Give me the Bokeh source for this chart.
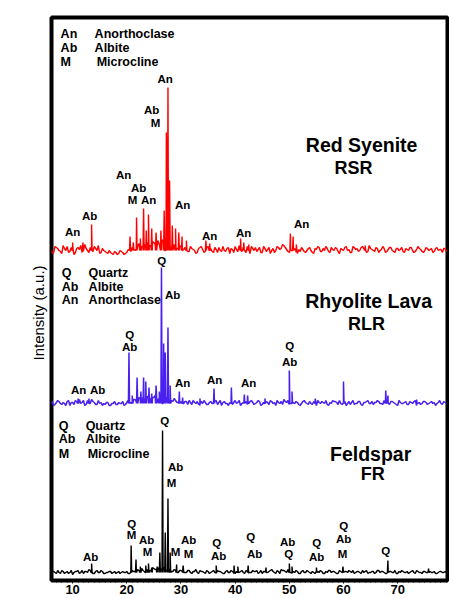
import numpy as np
from bokeh.plotting import figure
from bokeh.models import FixedTicker, Label, Range1d, Title
from bokeh.core.properties import value
from bokeh.embed import file_html
from bokeh.resources import INLINE

FONT = "Liberation Sans"

# ---- data (2theta in degrees, intensity in a.u.) ----
two_theta = np.arange(6.0, 79.01, 0.5)          # baseline samples
two_theta_mid = np.arange(6.25, 78.76, 0.5)     # in-between baseline samples

rsr_noise = [
    1, -2, 3, 0, -3, 2, 4, -1, 1, -2,
    3, 5, -1, 2, -2, 1, 4, 0, -3, 2,
    -1, -3, -2, -4, -2, -3, -1, -4, -2, 0,
    3, 1, 4, 2, 5, 3, 6, 4, 8, 7,
    6, 9, 8, 6, 7, 3, 5, 2, 4, 1,
    3, -1, 2, 0, -2, 3, 1, -1, 4, 2,
    -2, 1, 3, -1, 0, 2, -3, 1, 4, -1,
    2, 3, -2, 1, 4, 0, -1, 3, -2, 2,
    1, -3, 2, 0, 3, 2, 5, 1, -2, 0,
    2, -3, -1, 1, -2, 2, 0, -3, 1, 3,
    -1, 0, 2, -2, 1, 3, -1, 2, 0, 4,
    1, -2, 3, 2, 0, 4, 1, -1, 2, 0,
    3, -2, 1, 2, -1, 3, 0, -2, 2, 1,
    -1, 2, 0, 3, -2, 1, 2, -1, 0, 2,
    1, -2, 2, 0, 1, 2, -1,
]
rsr_noise_mid = [
    -3, 4, 2, -1, 5, 0, -2, 3, -4, 2,
    1, -2, 6, 0, 3, -1, 2, 5, -2, 0,
    -2, 0, -3, -1, -4, 0, -2, -3, 1, -1,
    5, 2, 7, 3, 6, 8, 5, 9, 6, 10,
    8, 11, 7, 9, 4, 6, 2, 5, 0, 3,
    -1, 4, 1, -3, 2, 4, -2, 3, 0, -1,
    3, -2, 0, 4, -1, 3, 2, -2, 1, 5,
    -1, 0, 4, -3, 2, 3, 1, -2, 4, -1,
    3, 0, -2, 4, 1, 6, 3, -1, 2, 4,
    -2, 1, 3, -1, 0, 3, -2, 2, 4, -1,
    2, 4, -1, 3, 0, 2, -3, 1, 3, 0,
    -2, 4, 1, -1, 3, 2, -2, 5, 1, -1,
    2, 0, 4, -2, 1, 3, -1, 2, 0, 3,
    -2, 1, 3, 0, -1, 4, 1, -2, 3, 0,
    2, -1, 3, 1, -2, 2,
]
rlr_noise = [
    0, -2, 1, 2, -1, 0, 2, -2, 1, 3,
    2, 0, 3, -1, 2, 4, 1, -1, 0, -2,
    -1, 1, -2, 0, -1, 1, 0, -2, 1, 3,
    2, 4, 3, 5, 6, 4, 7, 5, 6, 8,
    7, 6, 8, 5, 4, 2, 3, 1, 2, 0,
    2, 3, -1, 1, 2, -2, 0, 1, -1, 2,
    0, 3, 1, -2, 2, 0, 1, -1, 3, 1,
    -2, 1, 2, 0, 3, -1, 1, 2, -1, 0,
    1, 3, 0, -2, 1, 2, 4, 1, -1, 2,
    0, 1, -2, 2, 1, -1, 0, 2, -2, 1,
    2, 0, -1, 1, 3, 2, -1, 0, 1, -2,
    2, 1, -1, 0, 2, -2, 1, 3, 0, -1,
    1, 2, 0, 3, 1, -1, 2, 0, -2, 1,
    0, 2, -1, 1, 2, -2, 1, 0, 2, -1,
    1, 0, -2, 1, 0, 2, 0,
]
rlr_noise_mid = [
    2, -1, 3, 0, 1, -2, 3, 1, -1, 2,
    4, 1, -2, 3, 0, 2, -1, 3, 1, 0,
    1, -2, 0, 2, -1, 0, 2, -1, 3, 1,
    4, 2, 6, 3, 5, 7, 4, 6, 8, 5,
    9, 5, 6, 4, 3, 5, 1, 3, 0, 2,
    -1, 1, 3, 0, -1, 2, 3, -1, 1, 0,
    2, -1, 3, 1, 0, -2, 2, 1, 0, 3,
    0, 3, -1, 2, 1, 0, 3, -2, 1, 2,
    -1, 2, 1, 3, 0, -1, 2, 3, 0, 1,
    2, -1, 0, 3, 0, 2, -1, 1, 3, 0,
    1, 3, -2, 0, 2, 1, 3, -1, 2, 0,
    -1, 3, 0, 2, -1, 1, 2, 0, 2, 1,
    3, 0, -1, 2, 0, 2, 1, -1, 3, 0,
    1, -1, 2, 0, 3, 0, -1, 2, 1, 0,
    2, 1, 0, 3, -1, 1,
]
fr_noise = [
    0, 1, -1, 0, 2, -1, 1, 0, -2, 1,
    2, 0, -1, 1, 3, 0, -1, 2, 0, 1,
    -1, 0, 1, 0, -1, 1, 0, 0, 1, -1,
    2, 1, 3, 1, 2, 0, 3, 2, 4, 3,
    5, 4, 3, 2, 3, 1, 2, 0, 2, 1,
    0, 2, -1, 1, 0, 2, 1, -1, 1, 0,
    2, -1, 1, 0, -1, 2, 0, 1, -1, 2,
    1, 0, 2, -1, 0, 1, 2, 0, -1, 1,
    0, 2, 1, -1, 1, 3, 2, 0, 1, -1,
    0, 1, -1, 2, 0, 1, -1, 0, 2, 0,
    1, -1, 0, 2, 1, 0, -1, 1, 0, 1,
    2, 0, -1, 1, 0, 2, 1, -1, 0, 1,
    0, 2, 1, 0, -1, 1, 0, 2, -1, 0,
    1, 0, -1, 1, 0, 2, 0, -1, 1, 0,
    1, 0, -1, 0, 1, 0, 0,
]
fr_noise_mid = [
    1, 0, 2, -1, 1, 0, -1, 2, 0, 1,
    -1, 2, 1, 0, 2, -1, 1, 0, 2, -1,
    0, 1, -1, 1, 0, -1, 1, 0, -1, 2,
    1, 3, 2, 4, 1, 3, 2, 5, 3, 4,
    3, 5, 2, 4, 1, 3, 0, 2, 1, 0,
    2, 0, 1, 3, -1, 1, 0, 2, -1, 1,
    0, 2, 1, -1, 1, 0, 2, -1, 1, 0,
    2, -1, 1, 0, 2, 1, -1, 2, 1, 0,
    1, 3, 0, 2, -1, 2, 1, 3, 0, 1,
    2, -1, 1, 0, 2, 0, 1, -1, 1, 2,
    -1, 1, 2, 0, 1, -1, 2, 0, 1, 0,
    1, 2, 0, 1, -1, 0, 2, 0, 1, -1,
    2, 0, 1, -1, 2, 1, 0, -1, 1, 2,
    0, 1, 0, 2, -1, 1, 0, 1, 0, 2,
    0, 1, -1, 1, 0, 1,
]

rsr_peak_pos = [10.0, 11.9, 13.5, 20.6, 21.2, 21.8, 22.5, 23.1, 23.6, 24.0, 24.6, 25.4,
                26.3, 26.9, 27.3, 27.6, 27.9, 28.4, 29.0, 29.6, 30.2, 31.0, 34.6, 35.3,
                41.0, 41.6, 42.5, 50.2, 50.7, 51.3, 64.0]
rsr_peak_int = [8, 8, 26, 14, 8, 33, 12, 42, 20, 36, 22, 18,
                20, 40, 118, 163, 70, 25, 22, 18, 14, 10, 10, 7,
                12, 8, 6, 17, 14, 6, 5]

rlr_peak_pos = [11.0, 13.0, 20.4, 21.0, 21.9, 22.6, 23.1, 23.5, 24.1, 24.6, 25.4, 26.0,
                26.4, 26.8, 27.1, 27.6, 28.0, 29.7, 30.3, 33.5, 36.1, 39.3, 41.7, 42.3,
                45.5, 50.0, 50.5, 54.8, 60.0, 67.8, 68.2, 73.5]
rlr_peak_int = [5, 5, 51, 8, 26, 12, 26, 22, 16, 10, 18, 12,
                136, 60, 51, 76, 18, 12, 6, 5, 15, 16, 9, 8,
                5, 33, 12, 5, 22, 13, 8, 4]

fr_peak_pos = [13.5, 20.8, 21.7, 22.5, 23.5, 24.0, 24.6, 25.6, 26.1, 26.6, 27.1, 27.6,
               28.0, 29.2, 30.4, 36.5, 39.8, 40.5, 42.4, 45.7, 50.0, 50.5, 55.0, 59.9,
               68.2, 75.7]
fr_peak_int = [9, 27, 13, 6, 7, 9, 5, 6, 20, 142, 40, 74,
               20, 8, 7, 7, 7, 6, 7, 5, 9, 6, 5, 6,
               12, 4]

rsr_offset, rlr_offset, fr_offset = 330, 177, 8

# peak labels
rsr_lab_text = ["An", "Ab", "M", "An", "Ab", "M", "An", "An", "Ab", "An", "An", "An", "An"]
rsr_lab_x = [27.08, 24.58, 25.32, 19.41, 22.18, 21.08, 24.03, 30.31, 13.14, 10.0, 35.29, 41.57, 52.27]
rsr_lab_y = [502, 471, 458, 406, 393, 381, 381, 376, 365, 349, 345, 348, 357]

rlr_lab_text = ["Q", "Ab", "Q", "Ab", "An", "Ab", "An", "An", "An", "Q", "Ab"]
rlr_lab_x = [26.43, 28.46, 20.52, 20.52, 11.11, 14.62, 30.31, 36.21, 42.49, 50.06, 50.06]
rlr_lab_y = [320, 286, 246, 234, 191, 191, 198, 201, 198, 235, 219]

fr_lab_text = ["Q", "Ab", "M", "Q", "M", "Ab", "M", "Ab", "M", "Ab", "M", "Q", "Ab", "Q", "Ab",
               "Ab", "Q", "Q", "Ab", "Q", "Ab", "M", "Q"]
fr_lab_x = [26.98, 29.01, 28.28, 20.89, 20.89, 23.66, 23.85, 13.32, 29.01, 31.41, 31.41, 36.58,
            36.95, 42.86, 43.60, 49.69, 49.87, 55.04, 55.04, 60.03, 60.03, 59.84, 67.78]
fr_lab_y = [160, 114, 98, 57, 46, 41, 29, 24, 29, 41, 27, 38, 25, 44, 27, 39, 27, 38, 24, 55, 42, 27, 30]

# legends
rsr_leg_abbr = ["An", "Ab", "M"]
rsr_leg_name = ["Anorthoclase", "Albite", "Microcline"]
rlr_leg_abbr = ["Q", "Ab", "An"]
rlr_leg_name = ["Quartz", "Albite", "Anorthclase"]
fr_leg_abbr = ["Q", "Ab", "M"]
fr_leg_name = ["Quartz", "Albite", "Microcline"]

x_ticks = [10, 20, 30, 40, 50, 60, 70]


def build(noise, noise_mid, pos, inten, offset):
    xs = list(two_theta) + list(two_theta_mid)
    ys = [offset + n for n in noise] + [offset + n for n in noise_mid]
    for p_, h in zip(pos, inten):
        xs += [p_ - 0.1, p_, p_ + 0.1]
        ys += [offset, offset + h, offset]
    order = np.argsort(np.array(xs), kind="stable")
    return np.array(xs)[order], np.array(ys, dtype=float)[order]


p = figure(frame_width=396, frame_height=563, output_backend="svg", toolbar_location=None,
           x_range=Range1d(6.1, 79.2), y_range=Range1d(0, 563),
           min_border_left=0, min_border_right=2, min_border_top=17, min_border_bottom=18)
p.grid.visible = False
p.yaxis.visible = False
p.outline_line_color = "black"
p.outline_line_width = 4
p.background_fill_color = "white"
p.border_fill_color = "white"

ax = p.xaxis[0]
ax.ticker = FixedTicker(ticks=x_ticks, minor_ticks=list(range(7, 80)))
ax.axis_line_color = None
ax.major_tick_out = 3
ax.major_tick_in = 0
ax.minor_tick_out = 2
ax.minor_tick_in = 0
ax.major_label_standoff = 1
ax.major_label_text_font = FONT
ax.major_label_text_font_style = "bold"
ax.major_label_text_font_size = "13px"
ax.major_label_text_color = "black"

ytitle = Title(text="Intensity (a.u.)", align="left", offset=220, standoff=10,
               text_font=FONT, text_font_size="15px", text_font_style="normal",
               text_color="#000000")
p.add_layout(ytitle, "left")
p.min_border_left = 51

for noise, noise_mid, pos, inten, off, col, lw in [
    (rsr_noise, rsr_noise_mid, rsr_peak_pos, rsr_peak_int, rsr_offset, "#ff0000", 1.4),
    (rlr_noise, rlr_noise_mid, rlr_peak_pos, rlr_peak_int, rlr_offset, "#4a20f0", 1.5),
    (fr_noise, fr_noise_mid, fr_peak_pos, fr_peak_int, fr_offset, "#000000", 1.4),
]:
    xs, ys = build(noise, noise_mid, pos, inten, off)
    p.line(xs, ys, line_color=col, line_width=lw)

for tx, lx, ly in [(rsr_lab_text, rsr_lab_x, rsr_lab_y),
                   (rlr_lab_text, rlr_lab_x, rlr_lab_y),
                   (fr_lab_text, fr_lab_x, fr_lab_y)]:
    p.text(x=lx, y=ly, text=tx, text_font=value(FONT), text_font_style="bold",
           text_font_size="11.5px", text_align="center", text_baseline="middle",
           text_color="black")

legend_sets = [
    (rsr_leg_abbr, rsr_leg_name, 7.78, [14.06, 14.06, 14.43], [547, 533, 519]),
    (rlr_leg_abbr, rlr_leg_name, 7.97, [12.95, 12.95, 12.95], [308, 294, 281]),
    (fr_leg_abbr, fr_leg_name, 7.42, [12.40, 12.40, 12.77], [155, 142, 127]),
]
for abbr, names, abbr_x, name_x, ys in legend_sets:
    p.text(x=[abbr_x] * 3, y=ys, text=abbr, text_font=value(FONT), text_font_style="bold",
           text_font_size="12.5px", text_align="left", text_baseline="middle", text_color="black")
    p.text(x=name_x, y=ys, text=names, text_font=value(FONT), text_font_style="bold",
           text_font_size="12.5px", text_align="left", text_baseline="middle", text_color="black")

titles = [("Red Syenite", 63.35, 436, "19.5px"), ("RSR", 61.87, 413, "18px"),
          ("Rhyolite Lava", 64.64, 280, "19.5px"), ("RLR", 64.27, 257, "18px"),
          ("Feldspar", 65.01, 127, "19.5px"), ("FR", 65.38, 107, "18px")]
for t, tx, ty, fs in titles:
    p.add_layout(Label(x=tx, y=ty, text=t, text_font=FONT, text_font_style="bold",
                       text_font_size=fs, text_align="center", text_baseline="middle",
                       text_color="black"))

p.add_layout(Label(x=44.3, y=-10, text="2θ", text_font=FONT, text_font_style="bold",
                   text_font_size="13px", text_align="center", text_baseline="middle",
                   text_color="black"))

open("out.html", "w").write(file_html(p, INLINE))
